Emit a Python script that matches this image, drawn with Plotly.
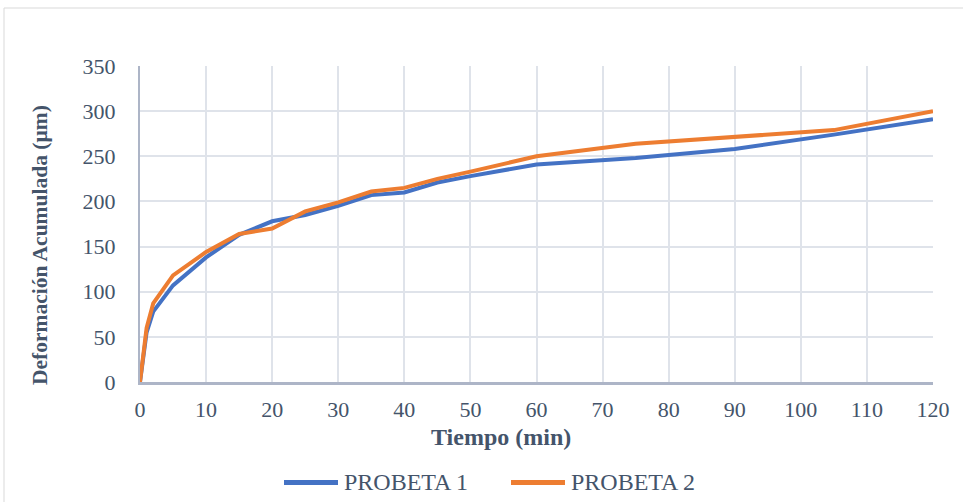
import plotly.graph_objects as go

tiempo = [0, 1, 2, 5, 10, 15, 20, 25, 30, 35, 40, 45, 50, 60, 75, 90, 105, 120]
probeta1 = [0, 55, 78, 107, 138, 163, 178, 185, 195, 207, 210, 221, 228, 241, 248, 258, 274, 291]
probeta2 = [0, 60, 87, 118, 144, 164, 170, 189, 199, 211, 215, 225, 233, 250, 264, 272, 279, 300]
series_names = ["PROBETA 1", "PROBETA 2"]
series_colors = ["#4472c4", "#ed7d31"]

x_ticks = list(range(0, 121, 10))
y_ticks = list(range(0, 351, 50))

font_family = "Liberation Serif, Times New Roman, serif"
text_color = "#44546a"

L, R, T, B = 140, 30, 66, 120
W, H = 963, 502
pw, ph = W - L - R, H - T - B


def px(xp):
    return (xp - L) / pw


def py(yp):
    return (H - B - yp) / ph


fig = go.Figure()
for name, vals, col in zip(series_names, [probeta1, probeta2], series_colors):
    fig.add_trace(go.Scatter(x=tiempo, y=vals, mode="lines", name=name,
                             line=dict(color=col, width=4), showlegend=False))

shapes = [dict(type="rect", xref="paper", yref="paper",
               x0=px(4), x1=px(966), y0=py(506), y1=py(8),
               line=dict(color="#d9d9d9", width=1), layer="below")]
annotations = [
    dict(text="<b>Tiempo (min)</b>", xref="paper", yref="paper", x=px(501), y=py(437),
         xanchor="center", yanchor="middle", showarrow=False,
         font=dict(size=24, family=font_family, color=text_color)),
    dict(text="<b>Deformación Acumulada (µm)</b>", xref="paper", yref="paper",
         x=px(40), y=py(245), textangle=-90,
         xanchor="center", yanchor="middle", showarrow=False,
         font=dict(size=21.5, family=font_family, color=text_color)),
]
legend_pos = [(284, 338, 342), (511, 565, 569)]
for (lx0, lx1, tx), name, col in zip(legend_pos, series_names, series_colors):
    shapes.append(dict(type="line", xref="paper", yref="paper",
                       x0=px(lx0), x1=px(lx1), y0=py(482.5), y1=py(482.5),
                       line=dict(color=col, width=5)))
    annotations.append(dict(text=name, xref="paper", yref="paper", x=px(tx), y=py(482),
                            xanchor="left", yanchor="middle", showarrow=False,
                            font=dict(size=24, family=font_family, color=text_color)))

fig.update_layout(
    width=W, height=H,
    margin=dict(l=L, r=R, t=T, b=B),
    paper_bgcolor="white", plot_bgcolor="white",
    font=dict(family=font_family, color=text_color, size=22),
    showlegend=False,
    xaxis=dict(range=[0, 120], tickvals=x_ticks, ticktext=[str(v) for v in x_ticks],
               showgrid=True, gridcolor="#dfe3ea", gridwidth=2,
               showline=True, linecolor="#adb5c7", linewidth=3,
               zeroline=False, ticks="", tickfont=dict(size=22), automargin=False,
               ticklabelstandoff=6),
    yaxis=dict(range=[0, 350], tickvals=y_ticks, ticktext=[str(v) for v in y_ticks],
               showgrid=True, gridcolor="#dfe3ea", gridwidth=2,
               showline=True, linecolor="#adb5c7", linewidth=2,
               zeroline=False, ticks="", tickfont=dict(size=22), ticklabelstandoff=18,
               automargin=False),
    shapes=shapes,
    annotations=annotations,
)

fig.write_html("out.html")
